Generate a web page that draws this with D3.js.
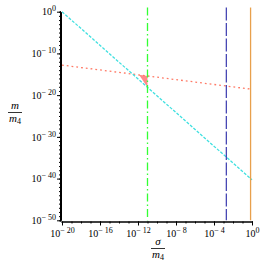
<!DOCTYPE html>
<html>
<head>
<meta charset="UTF-8">
<style>
  body { margin: 0; background: #fff; }
  svg { display: block; }
  .axis path, .axis line { stroke: #000; fill: none; }
  .axis text { font-family: "Liberation Serif", "DejaVu Serif", serif; font-size: 10px; fill: #000; }
  .ttl { font-family: "Liberation Serif", "DejaVu Serif", serif; font-style: italic; font-size: 11px; }
</style>
</head>
<body>
<svg id="chart" width="266" height="266"></svg>
<script src="https://cdn.jsdelivr.net/npm/d3@7"></script>
<script>
// log10 exponents
var xMajorExp = [-20, -16, -12, -8, -4, 0];
var yMajorExp = [0, -10, -20, -30, -40, -50];

var cyanSigmaExp = [-20, 0];
var cyanMExp = [0, -40.3];
var redSigmaExp = [-20, 0];
var redMExp = [-12.8, -18.6];
var greenSigmaExp = -11;
var blueSigmaExp = -2.7;
var orangeSigmaExp = -0.15;
var vertMExp = [1, -50];
var regionSigmaExp = [-11.9, -11, -11];
var regionMExp = [-15.1, -15.4, -18.1];

var p = function(e){ return Math.pow(10, e); };
var svg = d3.select("#chart");

var x = d3.scaleLog().domain([1e-20, 1]).range([62, 252]);
var y = d3.scaleLog().domain([1, 1e-50]).range([11.7, 220.3]);
var axisY = 221.5, axisX = 61;

// filled region
var region = regionSigmaExp.map(function(s, i){ return [x(p(s)), y(p(regionMExp[i]))]; });
svg.append("path")
  .attr("d", "M" + region.join("L") + "Z")
  .attr("fill", "#ff8a8a");

var line = d3.line().x(function(d){ return x(d[0]); }).y(function(d){ return y(d[1]); });

function drawLine(sx, my, color, dash) {
  var pts = sx.map(function(s, i){ return [p(s), p(my[i])]; });
  svg.append("path").datum(pts)
    .attr("d", line)
    .attr("fill", "none")
    .attr("stroke", color)
    .attr("stroke-width", 1.3)
    .attr("stroke-dasharray", dash);
}

drawLine(redSigmaExp, redMExp, "#ff7a66", "1.8,3");
drawLine(cyanSigmaExp, cyanMExp, "#40e0e0", "3,1.5");
drawLine([greenSigmaExp, greenSigmaExp], vertMExp, "#33ff33", "8,3,1.5,3");
drawLine([blueSigmaExp, blueSigmaExp], vertMExp, "#4848b4", "13,2.5");
drawLine([orangeSigmaExp, orangeSigmaExp], vertMExp, "#e8a04c", null);

// axes
function supLabel(sel) {
  sel.each(function(d){
    var t = d3.select(this);
    var e = Math.round(Math.log10(d));
    t.text(null);
    t.append("tspan").text("10");
    t.append("tspan").attr("dy", "-4").attr("font-size", "8px")
      .text(e === 0 ? "0" : "\u2212 " + (-e));
  });
}

var xMinor = d3.range(-20, 1).map(p);
var yMinor = d3.range(-50, 1).map(p);

svg.append("g").attr("class", "axis")
  .attr("transform", "translate(0," + axisY + ")")
  .call(d3.axisBottom(x).tickValues(xMinor).tickSize(2).tickSizeOuter(0).tickFormat(""));
var gx = svg.append("g").attr("class", "axis")
  .attr("transform", "translate(0," + axisY + ")")
  .call(d3.axisBottom(x).tickValues(xMajorExp.map(p)).tickSize(4).tickSizeOuter(0).tickPadding(4));
gx.selectAll(".tick text").call(supLabel);
gx.select(".domain").attr("d", "M" + axisX + ",0.5H253");

svg.append("g").attr("class", "axis")
  .attr("transform", "translate(" + axisX + ",0)")
  .call(d3.axisLeft(y).tickValues(yMinor).tickSize(2).tickSizeOuter(0).tickFormat(""));
var gy = svg.append("g").attr("class", "axis")
  .attr("transform", "translate(" + axisX + ",0)")
  .call(d3.axisLeft(y).tickValues(yMajorExp.map(p)).tickSize(4).tickSizeOuter(0).tickPadding(1));
gy.selectAll(".tick text").call(supLabel);
gy.select(".domain").attr("d", "M-0.5,11.2V" + axisY);

// axis titles
function frac(cx, top, num) {
  var g = svg.append("g");
  g.append("text").attr("class", "ttl").attr("x", cx).attr("y", top)
    .attr("text-anchor", "middle").text(num);
  g.append("line").attr("x1", cx - 7).attr("x2", cx + 7)
    .attr("y1", top + 3.5).attr("y2", top + 3.5).attr("stroke", "#000").attr("stroke-width", 0.8);
  var t = g.append("text").attr("class", "ttl").attr("x", cx).attr("y", top + 13)
    .attr("text-anchor", "middle");
  t.append("tspan").text("m");
  t.append("tspan").attr("dy", 2).attr("font-size", "8px").attr("font-style", "normal").text("4");
}
frac(15, 109, "m");
frac(158, 245, "\u03c3");
</script>
</body>
</html>
